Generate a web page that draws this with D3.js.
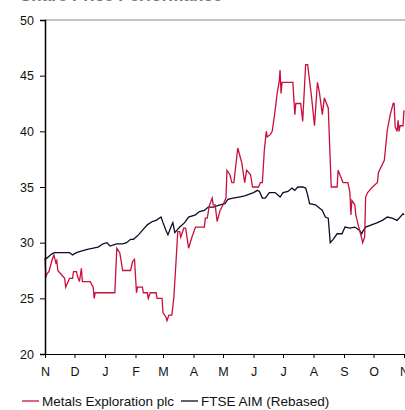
<!DOCTYPE html>
<html lang="en">
  <head>
    <meta charset="utf-8" />
    <title>Share price performance</title>
    <script src="https://d3js.org/d3.v7.min.js"></script>
    <style>
      body { margin: 0; background: #fff; }
      svg { display: block; font-family: "Liberation Sans", Arial, sans-serif; }
      .axis text { font-size: 12.5px; fill: #111; }
    </style>
  </head>
  <body>
    <svg width="405" height="410"></svg>
  </body>
  <script>
    // Metals Exploration plc (pence)
    const metalsDates = [
      '2006-11-01','2006-11-02','2006-11-03','2006-11-05','2006-11-08','2006-11-10','2006-11-12','2006-11-13',
      '2006-11-14','2006-11-18','2006-11-21','2006-11-22','2006-11-24','2006-11-26','2006-11-29','2006-11-30',
      '2006-12-03','2006-12-04','2006-12-06','2006-12-08','2006-12-09','2006-12-17','2006-12-20','2006-12-21',
      '2006-12-22','2007-01-11','2007-01-13','2007-01-16','2007-01-19','2007-01-27','2007-01-29','2007-01-31',
      '2007-02-02','2007-02-03','2007-02-08','2007-02-09','2007-02-13','2007-02-14','2007-02-16','2007-02-22',
      '2007-02-23','2007-02-28','2007-03-01','2007-03-04','2007-03-05','2007-03-07','2007-03-10','2007-03-12',
      '2007-03-14','2007-03-15','2007-03-16','2007-03-18','2007-03-19','2007-03-21','2007-03-22','2007-03-24',
      '2007-03-27','2007-03-30','2007-04-03','2007-04-12','2007-04-13','2007-04-15','2007-04-17','2007-04-20',
      '2007-04-21','2007-04-23','2007-04-25','2007-04-28','2007-05-01','2007-05-04','2007-05-05','2007-05-08',
      '2007-05-10','2007-05-12','2007-05-16','2007-05-20','2007-05-23','2007-05-25','2007-05-29','2007-05-31',
      '2007-06-06','2007-06-08','2007-06-10','2007-06-12','2007-06-14','2007-06-15','2007-06-18','2007-06-20',
      '2007-06-21','2007-06-23','2007-06-25','2007-06-27','2007-06-28','2007-06-29','2007-06-30','2007-07-11',
      '2007-07-13','2007-07-14','2007-07-19','2007-07-21','2007-07-24','2007-07-26','2007-07-30','2007-08-02',
      '2007-08-05','2007-08-07','2007-08-10','2007-08-12','2007-08-16','2007-08-19','2007-08-25','2007-08-26',
      '2007-08-31','2007-09-05','2007-09-07','2007-09-08','2007-09-09','2007-09-12','2007-09-13','2007-09-16',
      '2007-09-19','2007-09-20','2007-09-22','2007-09-23','2007-09-25','2007-09-30','2007-10-05','2007-10-06',
      '2007-10-12','2007-10-15','2007-10-18','2007-10-21','2007-10-22','2007-10-23','2007-10-25','2007-10-26',
      '2007-10-27','2007-10-28','2007-10-31','2007-11-01'
    ];
    const metalsValues = [
      28.6, 26.9, 27.2, 27.4, 28.4, 28.9, 28.2, 28.4,
      27.5, 27.1, 26.8, 26.0, 26.4, 26.8, 26.8, 27.4,
      27.4, 27.0, 26.5, 27.7, 26.5, 26.5, 26.0, 25.0,
      25.5, 25.5, 29.5, 29.1, 27.5, 27.5, 28.3, 28.5,
      25.5, 26.0, 26.0, 25.5, 25.5, 25.0, 25.5, 25.5,
      25.0, 25.0, 23.7, 23.3, 23.0, 23.5, 23.5, 25.1,
      28.0, 29.5, 31.0, 31.0, 30.5, 31.0, 31.3, 31.3,
      29.5, 30.4, 31.4, 31.4, 32.2, 32.2, 33.3, 34.0,
      33.4, 33.4, 31.9, 32.9, 33.4, 34.0, 36.5, 36.1,
      35.4, 35.4, 38.5, 37.2, 35.4, 36.5, 36.1, 35.0,
      35.0, 35.4, 35.4, 38.3, 40.0, 39.5, 39.7, 40.0,
      40.6, 41.9, 43.4, 44.4, 45.5, 43.4, 44.4, 44.4,
      41.5, 42.5, 42.5, 40.9, 46.0, 46.0, 43.1, 40.5,
      44.4, 43.5, 41.5, 43.0, 42.1, 35.0, 35.0, 36.5,
      35.4, 35.4, 34.5, 32.5, 33.8, 33.4, 32.5, 31.4,
      30.4, 30.0, 30.5, 34.1, 34.5, 35.0, 35.4, 36.3,
      37.4, 40.1, 41.5, 42.5, 42.5, 40.4, 40.0, 41.0,
      40.0, 40.5, 40.5, 41.9
    ];

    // FTSE AIM index rebased to the share price
    const aimDates = [
      '2006-11-01','2006-11-04','2006-11-08','2006-11-11','2006-11-16','2006-11-21','2006-11-26','2006-11-29',
      '2006-12-03','2006-12-06','2006-12-14','2006-12-20','2006-12-25','2006-12-30','2007-01-03','2007-01-06',
      '2007-01-13','2007-01-19','2007-01-23','2007-01-27','2007-01-30','2007-02-04','2007-02-08','2007-02-13',
      '2007-02-18','2007-02-22','2007-02-27','2007-03-01','2007-03-04','2007-03-06','2007-03-09','2007-03-11',
      '2007-03-13','2007-03-15','2007-03-18','2007-03-23','2007-03-27','2007-04-03','2007-04-07','2007-04-12',
      '2007-04-16','2007-04-21','2007-04-28','2007-05-03','2007-05-06','2007-05-11','2007-05-17','2007-05-23',
      '2007-06-01','2007-06-05','2007-06-07','2007-06-10','2007-06-13','2007-06-17','2007-06-23','2007-06-28',
      '2007-07-01','2007-07-06','2007-07-10','2007-07-13','2007-07-16','2007-07-21','2007-07-24','2007-07-26',
      '2007-07-28','2007-08-03','2007-08-10','2007-08-13','2007-08-16','2007-08-18','2007-08-21','2007-08-25',
      '2007-08-30','2007-09-02','2007-09-07','2007-09-12','2007-09-17','2007-09-19','2007-09-20','2007-09-23',
      '2007-09-29','2007-10-05','2007-10-10','2007-10-15','2007-10-20','2007-10-25','2007-10-28','2007-10-31',
      '2007-11-01'
    ];
    const aimValues = [
      28.5, 28.7, 29.0, 29.1, 29.1, 29.1, 29.1, 28.9,
      29.1, 29.2, 29.4, 29.5, 29.6, 29.9, 30.0, 29.7,
      29.9, 29.9, 30.0, 30.3, 30.3, 30.7, 31.1, 31.6,
      31.9, 32.0, 32.3, 31.8, 31.1, 30.7, 31.4, 31.8,
      30.9, 31.1, 31.4, 31.8, 32.3, 32.5, 32.8, 32.9,
      33.2, 33.2, 33.4, 33.5, 33.9, 34.0, 34.1, 34.2,
      34.5, 34.7, 34.6, 34.0, 34.0, 34.5, 34.5, 34.1,
      34.5, 34.6, 34.9, 34.7, 35.0, 35.0, 34.9, 34.3,
      33.5, 33.4, 32.9, 32.3, 32.2, 30.0, 30.3, 30.8,
      30.8, 31.4, 31.3, 31.4, 31.1, 30.8, 31.0, 31.4,
      31.6, 31.8, 32.0, 32.3, 32.2, 32.0, 32.3, 32.6,
      32.5
    ];

    const monthLabels = ['N', 'D', 'J', 'F', 'M', 'A', 'M', 'J', 'J', 'A', 'S', 'O', 'N'];
    const yTicks = [20, 25, 30, 35, 40, 45, 50];
    const seriesNames = ['Metals Exploration plc', 'FTSE AIM (Rebased)'];
    const seriesColors = ['#c8103c', '#0c0c2c'];

    const parse = d3.timeParse('%Y-%m-%d');
    const metals = metalsDates.map((d, i) => ({ date: parse(d), value: metalsValues[i] }));
    const aim = aimDates.map((d, i) => ({ date: parse(d), value: aimValues[i] }));

    const svg = d3.select('svg');

    // plot area
    const plotLeft = 45, plotRight = 404, plotTop = 20, plotBottom = 354;

    const xScale = d3.scaleTime()
      .domain([parse('2006-11-01'), parse('2007-11-01')])
      .range([plotLeft, plotRight]);

    const yScale = d3.scaleLinear()
      .domain([20, 50])
      .range([plotBottom, plotTop]);

    // title, mostly above the visible area
    svg.append('text')
      .attr('x', 20)
      .attr('y', 0.8)
      .attr('font-size', 17)
      .attr('font-weight', 'bold')
      .attr('fill', '#777')
      .text('Share Price Performance');

    // top frame line
    svg.append('line')
      .attr('x1', plotLeft).attr('x2', 405)
      .attr('y1', plotTop).attr('y2', plotTop)
      .attr('stroke', '#888')
      .attr('stroke-width', 1);

    // lines
    const line = d3.line()
      .x(d => xScale(d.date))
      .y(d => yScale(d.value));

    svg.append('path')
      .datum(aim)
      .attr('fill', 'none')
      .attr('stroke', seriesColors[1])
      .attr('stroke-width', 1.3)
      .attr('d', line);

    svg.append('path')
      .datum(metals)
      .attr('fill', 'none')
      .attr('stroke', seriesColors[0])
      .attr('stroke-width', 1.3)
      .attr('d', line);

    // y axis
    const yAxis = svg.append('g')
      .attr('class', 'axis')
      .attr('transform', `translate(${plotLeft},0)`)
      .call(d3.axisLeft(yScale).tickValues(yTicks).tickSize(5).tickPadding(6));
    yAxis.select('.domain').attr('stroke', '#000').attr('stroke-width', 1.5);

    // x axis, one tick per month
    const months = d3.timeMonth.range(parse('2006-11-01'), parse('2007-11-02'));
    const xAxis = svg.append('g')
      .attr('class', 'axis')
      .attr('transform', `translate(0,${plotBottom})`)
      .call(d3.axisBottom(xScale)
        .tickValues(months)
        .tickSize(4)
        .tickPadding(9)
        .tickSizeOuter(0)
        .tickFormat((d, i) => monthLabels[i]));
    xAxis.select('.domain').attr('stroke', '#000').attr('stroke-width', 1.2);

    // legend
    const legend = svg.append('g')
      .attr('transform', 'translate(22,403)');
    const offsets = [0, 159];
    seriesNames.forEach((name, i) => {
      const g = legend.append('g').attr('transform', `translate(${offsets[i]},0)`);
      g.append('line')
        .attr('x1', 0).attr('x2', 17)
        .attr('y1', -2).attr('y2', -2)
        .attr('stroke', seriesColors[i])
        .attr('stroke-width', 1.3);
      g.append('text')
        .attr('x', 20)
        .attr('y', 3)
        .attr('font-size', 13.5)
        .attr('fill', '#111')
        .text(name);
    });
  </script>
</html>
